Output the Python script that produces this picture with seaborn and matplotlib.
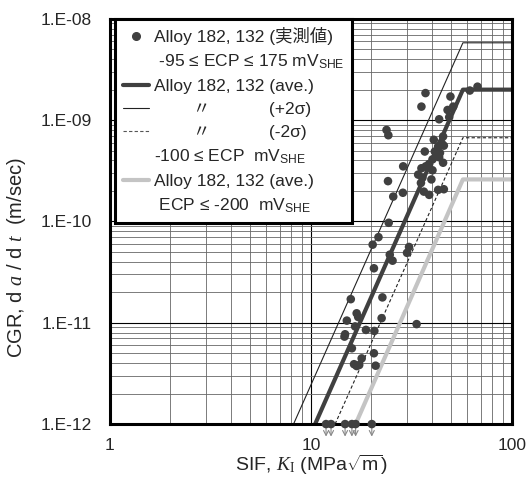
import numpy as np
import matplotlib
matplotlib.use("Agg")
import matplotlib.pyplot as plt
import seaborn as sns
from matplotlib.lines import Line2D
from matplotlib.ticker import FixedLocator, FixedFormatter, NullFormatter

# measured crack growth rates (SIF in MPa*sqrt(m), CGR in m/s)
k_meas = [37.2, 35.5, 49.5, 61.8, 67.5, 51.1, 47.9, 48.8, 43.5, 23.8,
          24.3, 45.5, 40.9, 43.0, 45.9, 36.9, 41.4, 42.2, 43.5, 40.3,
          45.5, 38.8, 28.8, 37.3, 35.5, 40.3, 34.2, 35.9, 24.2, 39.8,
          35.3, 28.7, 36.5, 38.8, 43.0, 45.9, 25.7, 24.4, 21.7, 20.3,
          30.8, 30.1, 24.7, 25.5, 20.6, 15.8, 22.7, 16.9, 17.2, 15.1,
          22.5, 33.6, 16.6, 18.8, 20.7, 14.8, 14.7, 16.0, 20.6, 17.9,
          21.0, 16.4, 16.9, 17.4, 44.7, 43.9]
cgr_meas = [1.85e-9, 1.36e-9, 1.71e-9, 1.96e-9, 2.14e-9, 1.36e-9, 1.26e-9, 1.07e-9, 1.02e-9, 8.0e-10,
            7.1e-10, 6.9e-10, 6.4e-10, 5.5e-10, 5.6e-10, 4.9e-10, 4.9e-10, 4.5e-10, 4.3e-10, 4.1e-10,
            3.8e-10, 3.7e-10, 3.5e-10, 3.5e-10, 3.35e-10, 3.2e-10, 2.9e-10, 2.7e-10, 2.5e-10, 2.6e-10,
            2.4e-10, 1.92e-10, 1.97e-10, 1.83e-10, 2.05e-10, 2.08e-10, 1.76e-10, 9.7e-11, 7.0e-11, 5.9e-11,
            5.6e-11, 4.9e-11, 4.7e-11, 4.1e-11, 3.45e-11, 1.71e-11, 1.78e-11, 1.24e-11, 1.14e-11, 1.05e-11,
            1.11e-11, 9.7e-12, 9.2e-12, 8.5e-12, 8.3e-12, 7.7e-12, 7.3e-12, 5.6e-12, 5.0e-12, 4.45e-12,
            3.77e-12, 3.9e-12, 3.74e-12, 3.83e-12, 5.96e-10, 4.75e-10]

# below detection limit (plotted at 1E-12 with arrows)
k_below = [11.9, 12.6, 14.8, 16.0, 16.7, 20.1]
cgr_below = [1e-12] * len(k_below)

# disposition curves
k_ave = [10.5, 57.1, 100]
cgr_ave = [1e-12, 2.0e-9, 2.0e-9]
k_plus = [8.2, 57.1, 100]
cgr_plus = [1e-12, 5.8e-9, 5.8e-9]
k_minus = [13.2, 57.1, 100]
cgr_minus = [1e-12, 6.7e-10, 6.7e-10]
k_low = [16.7, 57.1, 100]
cgr_low = [1e-12, 2.6e-10, 2.6e-10]

x_ticks = [1, 10, 100]
x_ticklabels = ["1", "10", "100"]
y_ticks = [1e-12, 1e-11, 1e-10, 1e-9, 1e-8]
y_ticklabels = ["1.E-12", "1.E-11", "1.E-10", "1.E-09", "1.E-08"]

sns.set_style("white")
plt.rcParams['font.family'] = ['Liberation Sans', 'Noto Sans CJK JP']
plt.rcParams['mathtext.fontset'] = 'custom'
plt.rcParams['mathtext.rm'] = 'Liberation Sans'
plt.rcParams['mathtext.it'] = 'Liberation Serif:italic'
plt.rcParams['mathtext.sf'] = 'Liberation Serif'

fig, ax = plt.subplots(figsize=(5.26, 4.83), dpi=100)
fig.subplots_adjust(left=0.209, right=0.973, bottom=0.122, top=0.961)
ax.set_xscale('log')
ax.set_yscale('log')
ax.set_xlim(1, 100)
ax.set_ylim(1e-12, 1e-8)

ax.set_axisbelow(True)
ax.grid(which='major', color='black', lw=0.8)
ax.grid(which='minor', color='#666666', lw=0.6)

dark = '#404040'
sns.lineplot(x=k_plus, y=cgr_plus, ax=ax, color='#222222', lw=0.8,
             estimator=None, sort=False, legend=False)
sns.lineplot(x=k_minus, y=cgr_minus, ax=ax, color='#222222', lw=0.8,
             estimator=None, sort=False, legend=False, dashes=False)
ax.lines[-1].set_linestyle((0, (3, 2)))
sns.lineplot(x=k_low, y=cgr_low, ax=ax, color='#c4c4c4', lw=3,
             estimator=None, sort=False, legend=False)
sns.lineplot(x=k_ave, y=cgr_ave, ax=ax, color=dark, lw=3,
             estimator=None, sort=False, legend=False)

sns.scatterplot(x=k_meas, y=cgr_meas, ax=ax, color=dark, s=38,
                edgecolor='none', zorder=5, clip_on=False)
sns.scatterplot(x=k_below, y=cgr_below, ax=ax, color=dark, s=38,
                edgecolor='none', zorder=5, clip_on=False)
for k in k_below:
    ax.annotate('', xy=(k, 1e-12), xytext=(0, -9), textcoords='offset points',
                arrowprops=dict(arrowstyle='<-,head_length=0.35,head_width=0.18',
                                color='#888888', lw=0.8, shrinkA=0, shrinkB=0),
                annotation_clip=False)

ax.xaxis.set_major_locator(FixedLocator(x_ticks))
ax.xaxis.set_major_formatter(FixedFormatter(x_ticklabels))
ax.yaxis.set_major_locator(FixedLocator(y_ticks))
ax.yaxis.set_major_formatter(FixedFormatter(y_ticklabels))
ax.xaxis.set_minor_formatter(NullFormatter())
ax.yaxis.set_minor_formatter(NullFormatter())
ax.tick_params(which='both', length=0, labelsize=12.5)
ax.tick_params(axis='y', pad=13)
ax.tick_params(axis='x', pad=10)

for sp in ax.spines.values():
    sp.set_color('black')
    sp.set_linewidth(2.2)

ax.set_xlabel("SIF, $\\mathit{K}_{\\mathsf{I}}$ (MPa$\\sqrt{\\mathrm{m}}$)", fontsize=14)
ax.set_ylabel("CGR, d $\\mathit{a}$ / d $\\mathit{t}$  (m/sec)", fontsize=14.5)
ax.xaxis.set_label_coords(0.5, -0.072)
ax.yaxis.set_label_coords(-0.205, 0.41)

none = Line2D([], [], ls='none')
handles = [
    Line2D([], [], marker='o', ls='none', color=dark, markersize=5.5),
    none,
    Line2D([], [], color=dark, lw=3),
    Line2D([], [], color='#222222', lw=0.8),
    Line2D([], [], color='#555555', lw=0.8, ls=(0, (3, 2))),
    none,
    Line2D([], [], color='#c4c4c4', lw=3),
    none,
]
labels = [
    "Alloy 182, 132 (実測値)",
    " -95 ≤ ECP ≤ 175 mV$_{\\mathrm{SHE}}$",
    "Alloy 182, 132 (ave.)",
    "        〃            (+2σ)",
    "        〃            (-2σ)",
    "-100 ≤ ECP  mV$_{\\mathrm{SHE}}$",
    "Alloy 182, 132 (ave.)",
    " ECP ≤ -200  mV$_{\\mathrm{SHE}}$",
]
leg = ax.legend(handles, labels, loc='upper left', bbox_to_anchor=(0.012, 1.0),
                borderaxespad=0, frameon=True, fancybox=False, edgecolor='black',
                framealpha=1, fontsize=12.5, handlelength=1.5, handletextpad=0.3,
                labelspacing=0.45, borderpad=0.45)
leg.get_frame().set_linewidth(2.2)

fig.savefig("out.png", dpi=100)
